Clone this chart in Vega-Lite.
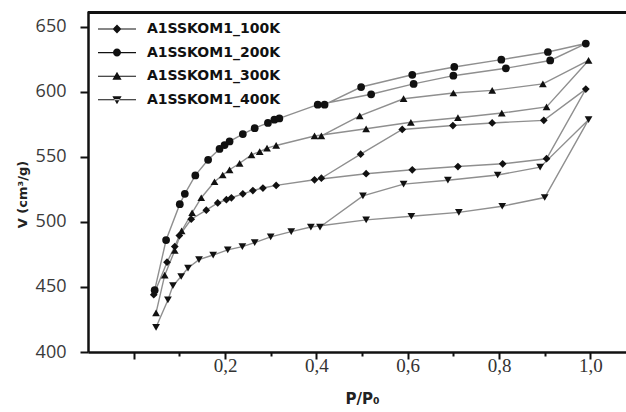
{
  "$schema": "https://vega.github.io/schema/vega-lite/v6.json",
  "autosize": "none",
  "padding": {"left": 88, "top": 11, "right": 0, "bottom": 60},
  "width": 538,
  "height": 341,
  "background": "white",
  "config": {
    "view": {"stroke": null},
    "axis": {"grid": false, "domainColor": "#111", "domainWidth": 2.5, "tickColor": "#111", "tickWidth": 2, "offset": 0}
  },
  "data": {
    "values": [
      {"s": "A1SSKOM1_100K", "i": 1, "x": 0.044, "y": 444},
      {"s": "A1SSKOM1_100K", "i": 2, "x": 0.073, "y": 469},
      {"s": "A1SSKOM1_100K", "i": 3, "x": 0.09, "y": 481},
      {"s": "A1SSKOM1_100K", "i": 4, "x": 0.1, "y": 489.5},
      {"s": "A1SSKOM1_100K", "i": 5, "x": 0.126, "y": 502},
      {"s": "A1SSKOM1_100K", "i": 6, "x": 0.159, "y": 509},
      {"s": "A1SSKOM1_100K", "i": 7, "x": 0.184, "y": 514.5},
      {"s": "A1SSKOM1_100K", "i": 8, "x": 0.203, "y": 517},
      {"s": "A1SSKOM1_100K", "i": 9, "x": 0.214, "y": 518.5},
      {"s": "A1SSKOM1_100K", "i": 10, "x": 0.239, "y": 521.5},
      {"s": "A1SSKOM1_100K", "i": 11, "x": 0.261, "y": 524},
      {"s": "A1SSKOM1_100K", "i": 12, "x": 0.283, "y": 526},
      {"s": "A1SSKOM1_100K", "i": 13, "x": 0.312, "y": 528},
      {"s": "A1SSKOM1_100K", "i": 14, "x": 0.396, "y": 532.3},
      {"s": "A1SSKOM1_100K", "i": 15, "x": 0.509, "y": 537},
      {"s": "A1SSKOM1_100K", "i": 16, "x": 0.61, "y": 540},
      {"s": "A1SSKOM1_100K", "i": 17, "x": 0.71, "y": 542.5},
      {"s": "A1SSKOM1_100K", "i": 18, "x": 0.808, "y": 544.6},
      {"s": "A1SSKOM1_100K", "i": 19, "x": 0.904, "y": 548.5},
      {"s": "A1SSKOM1_100K", "i": 20, "x": 0.99, "y": 602},
      {"s": "A1SSKOM1_100K", "i": 21, "x": 0.898, "y": 578},
      {"s": "A1SSKOM1_100K", "i": 22, "x": 0.785, "y": 576},
      {"s": "A1SSKOM1_100K", "i": 23, "x": 0.699, "y": 574},
      {"s": "A1SSKOM1_100K", "i": 24, "x": 0.588, "y": 571},
      {"s": "A1SSKOM1_100K", "i": 25, "x": 0.497, "y": 552},
      {"s": "A1SSKOM1_100K", "i": 26, "x": 0.411, "y": 533.5},

      {"s": "A1SSKOM1_200K", "i": 1, "x": 0.046, "y": 447.5},
      {"s": "A1SSKOM1_200K", "i": 2, "x": 0.071, "y": 486},
      {"s": "A1SSKOM1_200K", "i": 3, "x": 0.101, "y": 513.6},
      {"s": "A1SSKOM1_200K", "i": 4, "x": 0.112, "y": 521.5},
      {"s": "A1SSKOM1_200K", "i": 5, "x": 0.135, "y": 535.7},
      {"s": "A1SSKOM1_200K", "i": 6, "x": 0.163, "y": 547.7},
      {"s": "A1SSKOM1_200K", "i": 7, "x": 0.188, "y": 556},
      {"s": "A1SSKOM1_200K", "i": 8, "x": 0.199, "y": 559},
      {"s": "A1SSKOM1_200K", "i": 9, "x": 0.21, "y": 561.8},
      {"s": "A1SSKOM1_200K", "i": 10, "x": 0.239, "y": 567.4},
      {"s": "A1SSKOM1_200K", "i": 11, "x": 0.265, "y": 572},
      {"s": "A1SSKOM1_200K", "i": 12, "x": 0.294, "y": 576},
      {"s": "A1SSKOM1_200K", "i": 13, "x": 0.308, "y": 578.5},
      {"s": "A1SSKOM1_200K", "i": 14, "x": 0.319, "y": 579.5},
      {"s": "A1SSKOM1_200K", "i": 15, "x": 0.403, "y": 590},
      {"s": "A1SSKOM1_200K", "i": 16, "x": 0.52, "y": 598},
      {"s": "A1SSKOM1_200K", "i": 17, "x": 0.613, "y": 606},
      {"s": "A1SSKOM1_200K", "i": 18, "x": 0.7, "y": 612.3},
      {"s": "A1SSKOM1_200K", "i": 19, "x": 0.815, "y": 618},
      {"s": "A1SSKOM1_200K", "i": 20, "x": 0.912, "y": 624},
      {"s": "A1SSKOM1_200K", "i": 21, "x": 0.99, "y": 637},
      {"s": "A1SSKOM1_200K", "i": 22, "x": 0.907, "y": 630.5},
      {"s": "A1SSKOM1_200K", "i": 23, "x": 0.805, "y": 624.6},
      {"s": "A1SSKOM1_200K", "i": 24, "x": 0.702, "y": 619},
      {"s": "A1SSKOM1_200K", "i": 25, "x": 0.61, "y": 613},
      {"s": "A1SSKOM1_200K", "i": 26, "x": 0.498, "y": 603.6},
      {"s": "A1SSKOM1_200K", "i": 27, "x": 0.418, "y": 590},

      {"s": "A1SSKOM1_300K", "i": 1, "x": 0.049, "y": 430},
      {"s": "A1SSKOM1_300K", "i": 2, "x": 0.068, "y": 459},
      {"s": "A1SSKOM1_300K", "i": 3, "x": 0.09, "y": 478},
      {"s": "A1SSKOM1_300K", "i": 4, "x": 0.105, "y": 493},
      {"s": "A1SSKOM1_300K", "i": 5, "x": 0.128, "y": 507},
      {"s": "A1SSKOM1_300K", "i": 6, "x": 0.148, "y": 518.5},
      {"s": "A1SSKOM1_300K", "i": 7, "x": 0.177, "y": 530.8},
      {"s": "A1SSKOM1_300K", "i": 8, "x": 0.195, "y": 536},
      {"s": "A1SSKOM1_300K", "i": 9, "x": 0.21, "y": 540},
      {"s": "A1SSKOM1_300K", "i": 10, "x": 0.232, "y": 545},
      {"s": "A1SSKOM1_300K", "i": 11, "x": 0.258, "y": 551.5},
      {"s": "A1SSKOM1_300K", "i": 12, "x": 0.276, "y": 554},
      {"s": "A1SSKOM1_300K", "i": 13, "x": 0.292, "y": 556.7},
      {"s": "A1SSKOM1_300K", "i": 14, "x": 0.312, "y": 558.7},
      {"s": "A1SSKOM1_300K", "i": 15, "x": 0.396, "y": 566},
      {"s": "A1SSKOM1_300K", "i": 16, "x": 0.509, "y": 571.5},
      {"s": "A1SSKOM1_300K", "i": 17, "x": 0.607, "y": 576.5},
      {"s": "A1SSKOM1_300K", "i": 18, "x": 0.71, "y": 580},
      {"s": "A1SSKOM1_300K", "i": 19, "x": 0.806, "y": 583.6},
      {"s": "A1SSKOM1_300K", "i": 20, "x": 0.904, "y": 588.3},
      {"s": "A1SSKOM1_300K", "i": 21, "x": 0.996, "y": 624},
      {"s": "A1SSKOM1_300K", "i": 22, "x": 0.896, "y": 606},
      {"s": "A1SSKOM1_300K", "i": 23, "x": 0.785, "y": 601},
      {"s": "A1SSKOM1_300K", "i": 24, "x": 0.7, "y": 599},
      {"s": "A1SSKOM1_300K", "i": 25, "x": 0.591, "y": 594.6},
      {"s": "A1SSKOM1_300K", "i": 26, "x": 0.495, "y": 581.5},
      {"s": "A1SSKOM1_300K", "i": 27, "x": 0.411, "y": 566},

      {"s": "A1SSKOM1_400K", "i": 1, "x": 0.049, "y": 419},
      {"s": "A1SSKOM1_400K", "i": 2, "x": 0.075, "y": 440},
      {"s": "A1SSKOM1_400K", "i": 3, "x": 0.086, "y": 451},
      {"s": "A1SSKOM1_400K", "i": 4, "x": 0.104, "y": 458},
      {"s": "A1SSKOM1_400K", "i": 5, "x": 0.119, "y": 464.5},
      {"s": "A1SSKOM1_400K", "i": 6, "x": 0.143, "y": 471},
      {"s": "A1SSKOM1_400K", "i": 7, "x": 0.174, "y": 474.5},
      {"s": "A1SSKOM1_400K", "i": 8, "x": 0.206, "y": 478.5},
      {"s": "A1SSKOM1_400K", "i": 9, "x": 0.238, "y": 481},
      {"s": "A1SSKOM1_400K", "i": 10, "x": 0.265, "y": 484},
      {"s": "A1SSKOM1_400K", "i": 11, "x": 0.3, "y": 488.5},
      {"s": "A1SSKOM1_400K", "i": 12, "x": 0.345, "y": 492.5},
      {"s": "A1SSKOM1_400K", "i": 13, "x": 0.388, "y": 496},
      {"s": "A1SSKOM1_400K", "i": 14, "x": 0.509, "y": 501.5},
      {"s": "A1SSKOM1_400K", "i": 15, "x": 0.608, "y": 504.3},
      {"s": "A1SSKOM1_400K", "i": 16, "x": 0.712, "y": 507.3},
      {"s": "A1SSKOM1_400K", "i": 17, "x": 0.807, "y": 512},
      {"s": "A1SSKOM1_400K", "i": 18, "x": 0.9, "y": 518.7},
      {"s": "A1SSKOM1_400K", "i": 19, "x": 0.996, "y": 578.5},
      {"s": "A1SSKOM1_400K", "i": 20, "x": 0.89, "y": 542},
      {"s": "A1SSKOM1_400K", "i": 21, "x": 0.797, "y": 536},
      {"s": "A1SSKOM1_400K", "i": 22, "x": 0.688, "y": 532},
      {"s": "A1SSKOM1_400K", "i": 23, "x": 0.591, "y": 529},
      {"s": "A1SSKOM1_400K", "i": 24, "x": 0.502, "y": 520},
      {"s": "A1SSKOM1_400K", "i": 25, "x": 0.408, "y": 496}
    ]
  },
  "layer": [
    {
      "mark": {"type": "line", "color": "#8f8f8f", "strokeWidth": 1.4},
      "encoding": {
        "x": {
          "field": "x", "type": "quantitative",
          "scale": {"domain": [-0.1, 1.078], "nice": false, "zero": false},
          "axis": {
            "orient": "bottom", "offset": 0,
            "values": [0, 0.1, 0.2, 0.3, 0.4, 0.5, 0.6, 0.7, 0.8, 0.9, 1.0],
            "labelExpr": "(abs(datum.value) < 0.001 || round(datum.value * 10) % 2 == 1) ? '' : replace(format(datum.value, '.1f'), '.', ',')",
            "tickSize": {"condition": {"test": "round(datum.value * 10) % 2 == 0", "value": 7}, "value": 4},
            "labelFont": "Liberation Serif", "labelFontSize": 19, "labelColor": "#333", "labelPadding": -3,
            "title": "P/P₀", "titleFont": "DejaVu Sans", "titleFontWeight": "bold", "titleFontSize": 15, "titleColor": "#222",
            "titleX": 274, "titleY": 51, "titleBaseline": "alphabetic", "titleAlign": "center", "titleAnchor": null
          }
        },
        "y": {
          "field": "y", "type": "quantitative",
          "scale": {"domain": [400, 662], "nice": false, "zero": false},
          "axis": {
            "orient": "left", "offset": 0,
            "values": [400, 412.5, 425, 437.5, 450, 462.5, 475, 487.5, 500, 512.5, 525, 537.5, 550, 562.5, 575, 587.5, 600, 612.5, 625, 637.5, 650],
            "labelExpr": "datum.value % 50 == 0 ? format(datum.value, 'd') : ''",
            "tickSize": {"condition": {"test": "datum.value % 50 == 0", "value": 8}, "value": 4},
            "labelFont": "Open Sans", "labelFontSize": 18, "labelColor": "#3a3a3a", "labelPadding": 14,
            "title": "V (cm³/g)", "titleFont": "DejaVu Sans", "titleFontWeight": "bold", "titleFontSize": 13, "titleColor": "#222",
            "titleAngle": -90, "titleX": -66, "titleY": 183, "titleAlign": "center", "titleBaseline": "middle", "titleAnchor": null
          }
        },
        "detail": {"field": "s"},
        "order": {"field": "i", "type": "quantitative"}
      }
    },
    {
      "mark": {"type": "rule", "color": "#111", "strokeWidth": 3},
      "encoding": {"y": {"datum": 660.8, "type": "quantitative"}}
    },
    {
      "mark": {"type": "point", "filled": true, "color": "#111", "opacity": 1, "size": 60},
      "encoding": {
        "x": {"field": "x", "type": "quantitative"},
        "y": {"field": "y", "type": "quantitative"},
        "shape": {
          "field": "s", "type": "nominal",
          "scale": {"domain": ["A1SSKOM1_100K", "A1SSKOM1_200K", "A1SSKOM1_300K", "A1SSKOM1_400K"], "range": ["diamond", "circle", "triangle-up", "triangle-down"]},
          "legend": null
        }
      }
    },
    {
      "mark": {"type": "point", "filled": true, "color": "#111", "opacity": 0},
      "encoding": {
        "x": {"field": "x", "type": "quantitative"},
        "y": {"field": "y", "type": "quantitative"},
        "shape": {
          "field": "s", "type": "nominal",
          "scale": {
            "domain": ["A1SSKOM1_100K", "A1SSKOM1_200K", "A1SSKOM1_300K", "A1SSKOM1_400K"],
            "range": [
              "M-4.75,-0.14H4.75V0.14H-4.75ZM0,-1.1L1.1,0L0,1.1L-1.1,0Z",
              "M-4.75,-0.14H4.75V0.14H-4.75ZM1,0A1,1 0 1,1 -1,0A1,1 0 1,1 1,0Z",
              "M-4.75,-0.14H4.75V0.14H-4.75ZM0,-1.1L1.15,0.9L-1.15,0.9Z",
              "M-4.75,-0.14H4.75V0.14H-4.75ZM0,1.1L1.15,-0.9L-1.15,-0.9Z"
            ]
          },
          "legend": {
            "orient": "none", "legendX": 22, "legendY": 11, "title": null, "padding": 0,
            "symbolSize": 64, "symbolStrokeWidth": 0.6, "symbolStrokeColor": "#333", "symbolFillColor": "#222", "symbolOpacity": 1,
            "labelFont": "DejaVu Sans", "labelFontWeight": "bold", "labelFontSize": 14, "labelColor": "#111",
            "labelOffset": 23, "rowPadding": 9.6, "labelLimit": 300,
            "encode": {"symbols": {"fill": {"value": "#222"}, "stroke": {"value": "#333"}, "strokeWidth": {"value": 0.6}, "opacity": {"value": 1}}}
          }
        }
      }
    }
  ],
  "resolve": {"scale": {"shape": "independent"}}
}
